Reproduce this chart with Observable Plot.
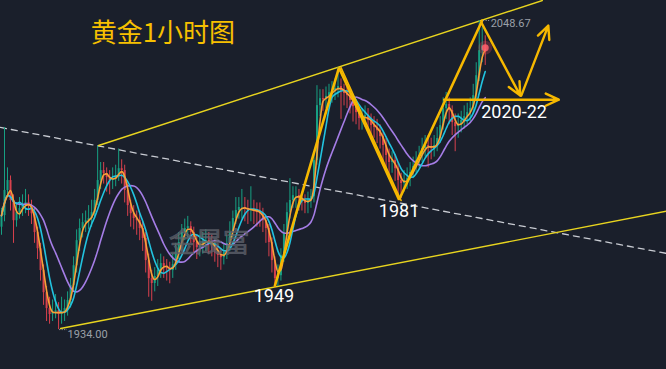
<!DOCTYPE html>
<html><head><meta charset="utf-8">
<script src="https://cdn.jsdelivr.net/npm/d3@7"></script>
<script src="https://cdn.jsdelivr.net/npm/@observablehq/plot@0.6"></script>
<style>
html,body{margin:0;padding:0;background:#1a1f2b;overflow:hidden;}
#chart svg{display:block;background:#1a1f2b;}
</style></head>
<body><div id="chart"></div>
<script>
// hourly gold closes (one bar per hour)
const closes = [1976.3,1985.6,1989.3,1981.9,1974.4,1977.4,1978.9,1980.0,1981.1,1980.0,
1977.0,1970.0,1964.0,1955.9,1947.7,1941.8,1939.6,1940.3,1941.0,1939.6,
1940.3,1941.8,1944.8,1950.3,1957.7,1967.0,1971.5,1973.7,1974.4,1975.2,
1977.4,1981.9,1989.3,1993.0,1991.9,1990.4,1989.3,1990.0,1991.1,1993.7,
1993.0,1985.6,1980.0,1977.0,1975.2,1974.4,1971.5,1967.8,1959.6,1952.9,
1951.1,1953.7,1955.9,1958.5,1957.4,1956.6,1955.9,1958.1,1962.6,1966.3,
1970.0,1971.5,1972.2,1970.0,1966.3,1964.4,1965.9,1966.7,1967.0,1966.3,
1965.2,1963.3,1961.5,1960.7,1962.6,1965.9,1970.0,1975.2,1978.2,1979.3,
1979.3,1978.9,1978.2,1978.5,1978.2,1977.4,1977.0,1974.4,1971.5,1966.3,
1959.6,1952.9,1954.0,1961.5,1969.6,1977.4,1981.9,1983.7,1983.7,1982.6,
1981.9,1980.8,1981.9,1983.3,1996.7,2017.1,2019.7,2019.3,2020.5,2021.9,
2022.6,2023.4,2024.2,2022.6,2021.6,2020.8,2019.0,2016.7,2014.5,2012.3,
2012.3,2013.4,2011.6,2009.7,2009.0,2007.8,2005.6,2002.3,1998.6,1996.0,
1996.7,1993.7,1989.3,1988.2,1989.3,1990.0,1992.3,1994.5,1996.7,1998.6,
2001.2,2002.3,2001.9,2001.2,2002.3,2004.9,2009.7,2016.0,2017.5,2015.3,
2010.8,2009.3,2010.0,2011.6,2013.0,2014.5,2016.0,2020.8,2028.2,2037.5,
2039.3,2036.8];
const highs = [1979,2009,1994,1991,1984,1981,1983,1984,1986,1984,
1982,1979,1972,1966,1958,1950,1946,1945,1947,1944,
1946,1945,1948,1953,1961,1971,1975,1977,1978,1980,
1982,1986,2002,1996,1996,1994,1993,1994,1995,2001,
1997,1995,1988,1982,1980,1978,1977,1974,1970,1962,
1956,1957,1960,1962,1961,1960,1959,1962,1966,1970,
1973,1975,1976,1974,1972,1969,1969,1970,1971,1970,
1969,1967,1965,1964,1966,1969,1974,1978,1983,1983,
1986,1983,1982,1987,1982,1981,1981,1979,1976,1973,
1968,1961,1958,1964,1973,1981,1990,1987,1987,1986,
1985,1984,1985,1986,2000,2024.5,2023,2023,2024,2025,
2026,2027,2031.2,2027,2025,2024,2023,2021,2019,2017,
2016,2017,2016,2014,2013,2012,2010,2007,2005,2001,
2000,1999,1996,1992,1993,1994,1996,1998,2000,2002,
2005,2006,2006,2005,2006,2009,2013,2020,2022,2020,
2017,2014,2014,2015,2017,2018,2020,2025,2033,2048.67,
2046,2043];
const lows = [1969,1974,1983,1978,1966,1972,1975,1976,1977,1976,
1973,1966,1960,1952,1943,1937,1936,1937,1938,1934,
1936,1937,1939,1942,1948,1955,1963,1968,1970,1971,
1972,1975,1980,1986,1988,1985,1984,1986,1987,1989,
1988,1981,1976,1972,1971,1969,1967,1963,1955,1946,
1944.5,1948,1950,1953,1953,1952,1951,1953,1956,1960,
1963,1967,1968,1966,1962,1960,1961,1962,1963,1962,
1961,1959,1957,1956,1958,1960,1963,1968,1973,1975,
1975,1974,1973,1974,1973,1972,1972,1970,1966,1961,
1955,1949.5,1950,1952,1959,1967,1975,1979,1979,1978,
1978,1977,1977,1979,1981,1995,2013,2015,2016,2017,
2018,2019,2020,2012,2017,2016,2014,2011,2010,2008,
2008,2009,2007,2005,2005,2003,2001,1996,1993,1991,
1992,1989,1984,1982.6,1985,1986,1987,1990,1992,1994,
1996,1998,1994,1997,1998,2000,2003,2008,2012,2010,
2006,2000,2005,2007,2009,2010,2011,2014,2019,2026,
2033,2032];
const firstOpen = 1972;

// annotation geometry in (bar index, price)
const upperChannel = [[32.33, 2002.3], [180, 2056.1]];
const lowerChannel = [[19.67, 1934.4], [221.67, 1978.0]];
const dashedLine = [[-0.33, 2009.0], [221.67, 1962.2]];
const waveThick = [[91, 1950.3], [112.33, 2031.2], [132.33, 1982.2], [160, 2048.67]];
const waveThin = [[113, 2031.2], [133, 1981.9]];
const arrows = [
  {x1: 159.67, y1: 2048.0, x2: 172.67, y2: 2020.8},
  {x1: 173, y1: 2020.8, x2: 182, y2: 2046.8},
  {x1: 147.33, y1: 2019.3, x2: 185.5, y2: 2019.3}
];
const titleText = "黄金1小时图";
const watermark = "金晟富";
const levelLabel = {x: 159.67, y: 2014.5, text: "2020-22"};
const pointLabels = [
  {x: 132.33, y: 1977.8, text: "1981"},
  {x: 90.67, y: 1946.2, text: "1949"}
];
const priceTags = [
  {x: 162.8, y: 2047.6, text: "2048.67", lx1: 160.3, lx2: 162.5, ly: 2048.67},
  {x: 22.0, y: 1932.1, text: "1934.00", lx1: 19.2, lx2: 21.8, ly: 1934.0}
];
const lastPrice = {x: 161, y: 2038.6};

const bars = closes.map((c, i) => ({
  i, close: c, open: i ? closes[i - 1] : firstOpen, high: highs[i], low: lows[i]
}));
const ups = bars.filter(d => d.close >= d.open);
const downs = bars.filter(d => d.close < d.open);
const UP = "#17a083", DOWN = "#d8414d";
const GOLD = "#f6b800";
const seg = (pts) => pts.map(([x, y]) => ({x, y}));

const chart = Plot.plot({
  width: 666, height: 369,
  marginTop: 0, marginRight: 0, marginBottom: 0, marginLeft: 0,
  style: {background: "#1a1f2b", overflow: "hidden"},
  x: {domain: [-1/3, 665/3 - 1/3], axis: null},
  y: {domain: [1919.2, 2056.1], axis: null},
  marks: [
    Plot.line(seg(dashedLine), {x: "x", y: "y", stroke: "#c9ccd3", strokeWidth: 1.3, strokeDasharray: "6,5"}),
    Plot.line(seg(upperChannel), {x: "x", y: "y", stroke: "#e8d41f", strokeWidth: 1.4}),
    Plot.line(seg(lowerChannel), {x: "x", y: "y", stroke: "#e8d41f", strokeWidth: 1.4}),
    Plot.ruleX(ups, {x: "i", y1: "low", y2: "high", stroke: UP, strokeWidth: 1}),
    Plot.ruleX(downs, {x: "i", y1: "low", y2: "high", stroke: DOWN, strokeWidth: 1}),
    Plot.ruleX(ups, {x: "i", y1: "open", y2: "close", stroke: UP, strokeWidth: 2}),
    Plot.ruleX(downs, {x: "i", y1: "open", y2: "close", stroke: DOWN, strokeWidth: 2}),
    Plot.lineY(bars, Plot.windowY({k: 14, anchor: "end", reduce: "mean"}, {x: "i", y: "close", stroke: "#a57de6", strokeWidth: 1.6, curve: "monotone-x"})),
    Plot.lineY(bars, Plot.windowY({k: 6, anchor: "end", reduce: "mean"}, {x: "i", y: "close", stroke: "#22c3df", strokeWidth: 1.6, curve: "monotone-x"})),
    Plot.lineY(bars, Plot.windowY({k: 3, anchor: "end", reduce: "mean"}, {x: "i", y: "close", stroke: "#f8a137", strokeWidth: 1.6, curve: "monotone-x"})),
    Plot.text([watermark], {x: 55.7, y: 1965.9, text: d => d, textAnchor: "start", fontSize: 27,
      fill: "#5d616a", fillOpacity: 0.75, stroke: "#7a7e86", strokeOpacity: 0.6, strokeWidth: 0.7, fontFamily: "Noto Sans CJK SC"}),
    Plot.line(seg(waveThin), {x: "x", y: "y", stroke: GOLD, strokeWidth: 1.6}),
    Plot.line(seg(waveThick), {x: "x", y: "y", stroke: GOLD, strokeWidth: 2.6, strokeLinejoin: "miter"}),
    Plot.arrow(arrows, {x1: "x1", y1: "y1", x2: "x2", y2: "y2", stroke: GOLD, strokeWidth: 2.4, headLength: 9, headAngle: 50}),
    Plot.dot([lastPrice], {x: "x", y: "y", r: 7, fill: "#ff4d5e", fillOpacity: 0.25}),
    Plot.dot([lastPrice], {x: "x", y: "y", r: 3.5, fill: "#ff5f6b", fillOpacity: 0.85}),
    Plot.link(priceTags, {x1: "lx1", x2: "lx2", y1: "ly", y2: "ly", stroke: "#9aa0a8", strokeWidth: 1, strokeDasharray: "1,1.5"}),
    Plot.text(priceTags, {x: "x", y: "y", text: "text", textAnchor: "start", fontSize: 11, fill: "#9aa0a8", fontFamily: "Roboto"}),
    Plot.text(pointLabels, {x: "x", y: "y", text: "text", fontSize: 18, fill: "#ffffff", fontFamily: "Roboto", textAnchor: "middle"}),
    Plot.text([levelLabel], {x: "x", y: "y", text: "text", fontSize: 18, fill: "#ffffff", fontFamily: "Roboto", textAnchor: "start"}),
    Plot.text([titleText], {x: 29.67, y: 2043.8, text: d => d, textAnchor: "start", fontSize: 26, fill: "#f7c000", fontFamily: "Noto Sans CJK SC"})
  ]
});
document.getElementById("chart").appendChild(chart);
</script></body></html>
